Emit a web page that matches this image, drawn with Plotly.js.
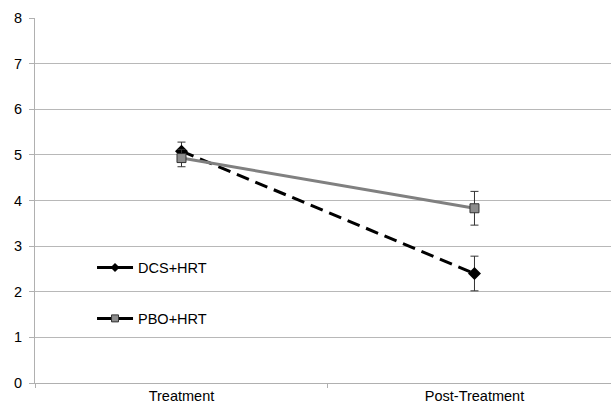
<!DOCTYPE html>
<html><head><meta charset="utf-8">
<script src="https://cdn.plot.ly/plotly-3.0.1.min.js"></script>
<style>html,body{margin:0;padding:0;background:#fff}</style>
</head><body><div id="chart" style="width:611px;height:406px"></div>
<script>
const categories = ["Treatment", "Post-Treatment"];
const dcsValues = [5.08, 2.40];
const dcsErrors = [0.20, 0.38];
const pboValues = [4.93, 3.83];
const pboErrors = [0.19, 0.37];
const yTicks = [0,1,2,3,4,5,6,7,8];
const seriesNames = ["DCS+HRT", "PBO+HRT"];

const traces = [
  {x: categories, y: dcsValues, name: seriesNames[0], type: "scatter", mode: "lines+markers",
   showlegend: false,
   line: {color: "#000000", width: 3, dash: "13px,7px"},
   marker: {symbol: "diamond", size: 10, color: "#000000"},
   error_y: {type: "data", array: dcsErrors, visible: true, color: "#333333", thickness: 1, width: 4}},
  {x: categories, y: pboValues, name: seriesNames[1], type: "scatter", mode: "lines+markers",
   showlegend: false,
   line: {color: "#808080", width: 3},
   marker: {symbol: "square", size: 9, color: "#8c8c8c", line: {color: "#333333", width: 1}},
   error_y: {type: "data", array: pboErrors, visible: true, color: "#333333", thickness: 1, width: 4}},
  {x: [null], y: [null], name: seriesNames[0], type: "scatter", mode: "lines+markers",
   legendgroup: "a",
   line: {color: "#000000", width: 3},
   marker: {symbol: "diamond", size: 7, color: "#000000"}},
  {x: [null], y: [null], name: seriesNames[1], type: "scatter", mode: "lines+markers",
   legendgroup: "b",
   line: {color: "#000000", width: 3},
   marker: {symbol: "square", size: 7, color: "#8c8c8c", line: {color: "#333333", width: 1}}}
];

const layout = {
  width: 611, height: 406,
  margin: {l: 35, r: 0, t: 18, b: 23},
  paper_bgcolor: "#fff", plot_bgcolor: "#fff",
  font: {family: "Liberation Sans, Arial, sans-serif", size: 14.5, color: "#000"},
  showlegend: true,
  legend: {x: 0.099, y: 0.36, xanchor: "left", yanchor: "top", traceorder: "grouped",
           tracegroupgap: 29, bgcolor: "rgba(0,0,0,0)", font: {size: 14.5}, itemwidth: 36},
  xaxis: {type: "category", range: [-0.5, 1.466], showgrid: false, zeroline: false,
          showline: true, linecolor: "#b0b0b0", linewidth: 1,
          ticks: "outside", tickson: "boundaries", ticklen: 4, tickcolor: "#b0b0b0",
          fixedrange: true},
  yaxis: {range: [0, 8], tickvals: yTicks, showgrid: true, gridcolor: "#b8b8b8", gridwidth: 1,
          zeroline: false, showline: true, linecolor: "#b0b0b0", linewidth: 1,
          ticks: "outside", ticklen: 5, tickcolor: "#b0b0b0", ticklabelstandoff: 4}
};
Plotly.newPlot("chart", traces, layout, {displayModeBar: false, staticPlot: true});
</script></body></html>
